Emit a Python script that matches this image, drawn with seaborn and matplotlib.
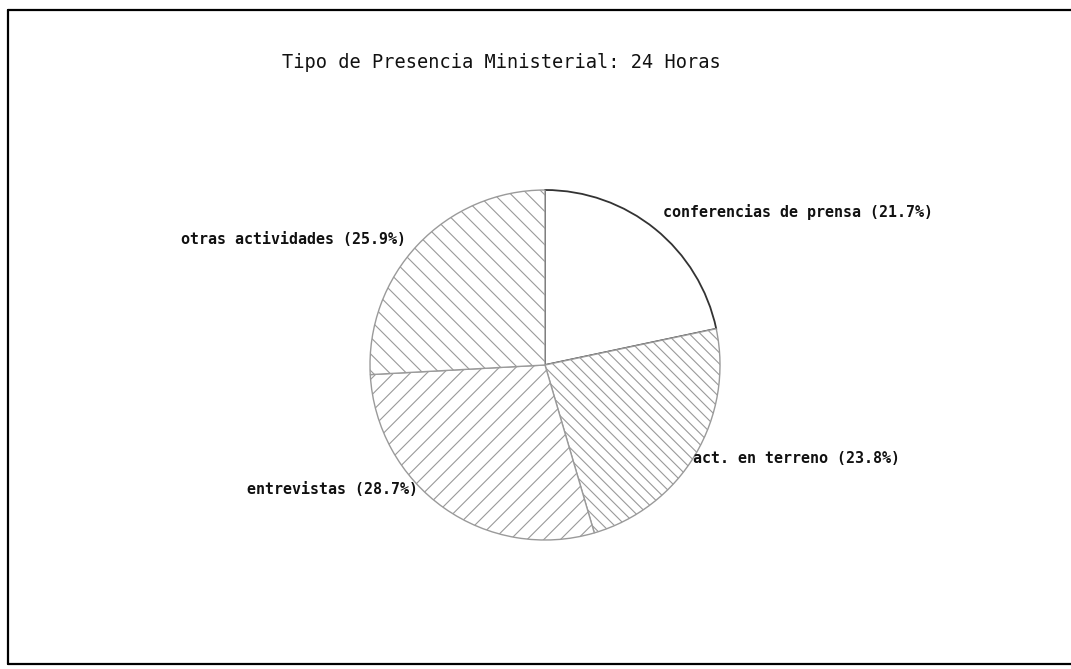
import matplotlib
matplotlib.use('Agg')
import matplotlib.pyplot as plt
import seaborn as sns
from matplotlib.lines import Line2D

# data
categories = ['conferencias de prensa', 'act. en terreno', 'entrevistas', 'otras actividades']
shares = [21.7, 23.8, 28.7, 25.9]
hatches = ['', '\\\\\\', '//', '\\\\']
# label anchors (in pie radius units) and alignment
label_xy = [(0.674, 0.874), (0.846, -0.537), (-0.726, -0.709), (-0.794, 0.72)]
label_ha = ['left', 'left', 'right', 'right']

sns.set_theme(style='white')
plt.rcParams['font.family'] = ['DejaVu Sans Mono', 'DejaVu Sans']
plt.rcParams['hatch.linewidth'] = 0.8

fig = plt.figure(figsize=(10.71, 6.69), dpi=100)
fig.patch.set_facecolor('white')

# pie centre at (545, 365) px, radius 175 px
ax = fig.add_axes([370 / 1071, 129 / 669, 350 / 1071, 350 / 669])
labels = ['{} ({:.1f}%)'.format(c, s) for c, s in zip(categories, shares)]
wedges, texts = ax.pie(shares, labels=labels, startangle=90, counterclock=False,
                       colors=['white'] * len(shares), radius=1,
                       wedgeprops={'edgecolor': '#9a9a9a', 'linewidth': 1.0},
                       textprops={'fontsize': 10.8, 'fontweight': 'bold', 'color': '#111111'})
for w, h in zip(wedges, hatches):
    w.set_hatch(h)
wedges[0].set_edgecolor('#333333')
wedges[0].set_linewidth(1.3)
for t, xy, ha in zip(texts, label_xy, label_ha):
    t.set_position(xy)
    t.set_ha(ha)
    t.set_va('center')
    t.set_clip_on(False)
ax.set_xlim(-1, 1)
ax.set_ylim(-1, 1)
ax.set_aspect('equal')
ax.axis('off')

fig.text(501 / 1071, 1 - 62 / 669, 'Tipo de Presencia Ministerial: 24 Horas',
         ha='center', va='center', fontsize=13.4, color='#111111')

# scanned page frame (left, top, bottom edges)
lx = 7.5 / 1071
ty = 1 - 10 / 669
by = 1 - 664 / 669
fig.add_artist(Line2D([lx, lx], [by, ty], transform=fig.transFigure, color='black', lw=1.6))
fig.add_artist(Line2D([lx, 1], [ty, ty], transform=fig.transFigure, color='black', lw=1.6))
fig.add_artist(Line2D([lx, 1], [by, by], transform=fig.transFigure, color='black', lw=1.6))

fig.savefig('out.png', dpi=100, facecolor='white')
